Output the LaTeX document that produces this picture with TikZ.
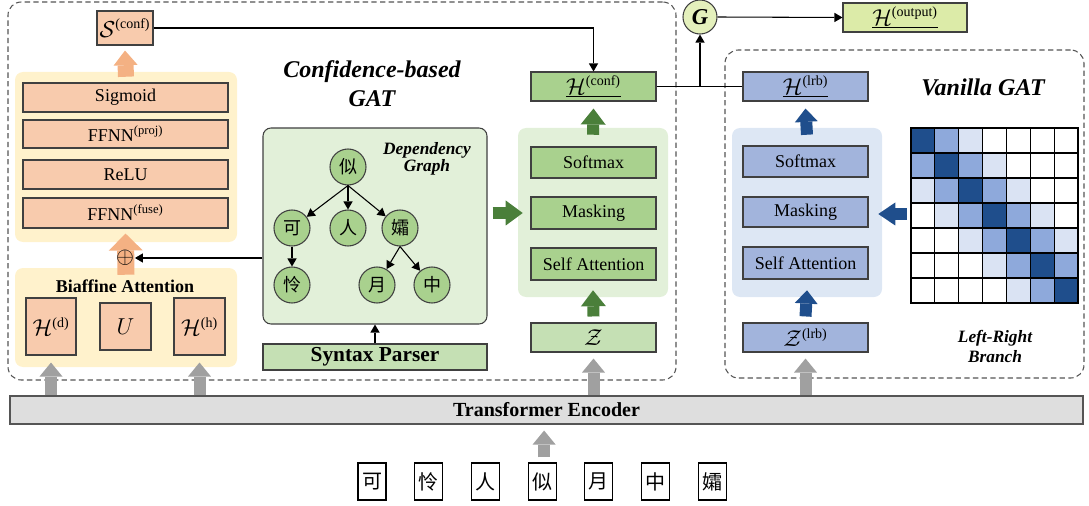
\documentclass[tikz,border=0pt]{standalone}
\usepackage{fontspec}
\setmainfont{Liberation Serif}
\newfontfamily\cjk{Noto Sans CJK SC}
\usetikzlibrary{arrows.meta,calc}
\newcommand\fsz[1]{\fontsize{#1}{#1}\selectfont}
\newcommand\sps[1]{^{\mbox{\fsz{10.5}(#1)}}}
\definecolor{orbox}{HTML}{F8CBAD}
\definecolor{orarr}{HTML}{F4B183}
\definecolor{ypanel}{HTML}{FFF2CC}
\definecolor{gbox}{HTML}{A9D18E}
\definecolor{gboxl}{HTML}{C5E0B4}
\definecolor{gpanel}{HTML}{E2F0D9}
\definecolor{garr}{HTML}{4A7F3A}
\definecolor{bbox}{HTML}{A2B4DC}
\definecolor{bpanelc}{HTML}{DDE7F4}
\definecolor{barr}{HTML}{1F4E8C}
\definecolor{gdark}{HTML}{1F4E8C}
\definecolor{gmid}{HTML}{8EA9DB}
\definecolor{glight}{HTML}{DAE3F3}
\definecolor{grarr}{HTML}{A0A0A0}
\definecolor{barc}{HTML}{DEDEDE}
\definecolor{houtc}{HTML}{DCEBA8}
\definecolor{gcirc}{HTML}{E4F0BC}
\definecolor{bcol}{HTML}{404040}
\definecolor{dcol}{HTML}{555555}
\begin{document}
\begin{tikzpicture}[x=0.75pt,y=-0.75pt,
  box/.style={draw=bcol, line width=0.8pt, inner sep=0pt, font=\fsz{13.5}},
  sz/.style 2 args={minimum width={#1*0.75pt}, minimum height={#2*0.75pt}},
  panel/.style={rounded corners=6pt, inner sep=0pt},
  dashbox/.style={draw=dcol, line width=0.8pt, dash pattern=on 4pt off 2.5pt, rounded corners=10pt, inner sep=0pt},
  conn/.style={draw=black, line width=0.8pt, -{Triangle[length=6pt,width=7pt,line width=0pt]}},
  plain/.style={draw=black, line width=0.8pt},
  bigarrow/.style n args={5}{draw=#1, line width=#2, -{Triangle[length=#3,width=#4,line width=0pt]}, shorten <=0pt},
  tn/.style={circle, draw=bcol, line width=0.8pt, fill=gbox, minimum size=27pt, inner sep=0pt, font=\cjk\fsz{13.5}},
  lbl/.style={font=\bfseries\itshape, align=center, inner sep=0pt}
]
\useasboundingbox (0,0) rectangle (1089,506);

% dashed outer boxes
\node[dashbox, sz={668}{378}] (cgat) at (342,191) {};
\node[dashbox, sz={359}{328}] (vgat) at (904.5,214) {};

% panels
\node[panel, fill=ypanel, sz={222}{170}] (up) at (126,157) {};
\node[panel, fill=ypanel, sz={222}{99}] (bp) at (126,317.5) {};
\node[panel, fill=gpanel, draw=bcol, line width=0.8pt, sz={224}{196}] (dep) at (375,226) {};
\node[panel, fill=gpanel, sz={150}{169}] (mp) at (593,212.5) {};
\node[panel, fill=bpanelc, sz={150}{169}] (rp) at (807,212.5) {};

% left column
\node[box, fill=orbox, sz={56}{34}] (S) at (125,28) {\fsz{16}$\mathcal{S}\sps{conf}$};
\node[box, fill=orbox, sz={205}{29}] (sig) at (125.5,97.5) {Sigmoid};
\node[box, fill=orbox, sz={205}{28}] (proj) at (125.5,134) {FFNN\textsuperscript{(proj)}};
\node[box, fill=orbox, sz={205}{29}] (relu) at (125.5,174.5) {ReLU};
\node[box, fill=orbox, sz={205}{30}] (fuse) at (125.5,213) {FFNN\textsuperscript{(fuse)}};
\node[font=\bfseries\fsz{13.5}] (biaf) at (125,286) {Biaffine Attention};
\node[box, fill=orbox, sz={50}{57}] (Hd) at (51,326.5) {\fsz{16}$\mathcal{H}\sps{d}$};
\node[box, fill=orbox, sz={51}{47}] (U) at (125.5,326.5) {\fsz{16}$U$};
\node[box, fill=orbox, sz={51}{57}] (Hh) at (199.5,326.5) {\fsz{16}$\mathcal{H}\sps{h}$};

% middle column
\node[box, fill=gbox, sz={125}{29}] (Hconf) at (593.5,86.5) {\fsz{16}\underline{$\mathcal{H}\sps{conf}$}};
\node[box, fill=gbox, sz={125}{31}] (soft1) at (593.5,162.5) {Softmax};
\node[box, fill=gbox, sz={125}{32}] (mask1) at (593.5,213) {Masking};
\node[box, fill=gbox, sz={125}{32}] (sa1) at (593.5,264) {Self Attention};
\node[box, fill=gboxl, sz={125}{29}] (Z) at (593.5,337.5) {\fsz{16}$\mathcal{Z}$};

% right column
\node[box, fill=bbox, sz={125}{29}] (Hlrb) at (805.5,86.5) {\fsz{16}\underline{$\mathcal{H}\sps{lrb}$}};
\node[box, fill=bbox, sz={125}{31}] (soft2) at (805.5,161.5) {Softmax};
\node[box, fill=bbox, sz={125}{30}] (mask2) at (805.5,212) {Masking};
\node[box, fill=bbox, sz={125}{32}] (sa2) at (805.5,263) {Self Attention};
\node[box, fill=bbox, sz={125}{29}] (Zlrb) at (805.5,337.5) {\fsz{16}$\mathcal{Z}\sps{lrb}$};

% gate and output
\node[circle, draw=bcol, line width=0.8pt, fill=gcirc, minimum size=25.5pt, inner sep=0pt, font=\bfseries\itshape\fsz{17}] (G) at (700,17) {G};
\node[box, fill=houtc, sz={124}{29}] (Hout) at (905,17.5) {\fsz{16}\underline{$\mathcal{H}\sps{output}$}};

% syntax parser and dependency tree
\node[box, fill=gboxl, sz={224}{26}, font=\bfseries\fsz{16}] (syn) at (375,357) {Syntax Parser};
\node[tn] (t1) at (348,167) {似};
\node[tn] (t2) at (292,228) {可};
\node[tn] (t3) at (348,228) {人};
\node[tn] (t4) at (400,228) {孀};
\node[tn] (t5) at (292,285) {怜};
\node[tn] (t6) at (377,285) {月};
\node[tn] (t7) at (432,285) {中};
\draw[conn] (t1.south) -- (t2);
\draw[conn] (t1.south) -- (t3);
\draw[conn] (t1.south) -- (t4);
\draw[conn] (t2) -- (t5);
\draw[conn] (t4.south) -- (t6);
\draw[conn] (t4.south) -- (t7);

% grid
\node[sz={167}{175}, inner sep=0pt] (grid) at (994.5,215.5) {};
\foreach \i in {0,...,6}{
  \foreach \j in {0,...,6}{
    \pgfmathtruncatemacro\dd{abs(\i-\j)}
    \ifcase\dd \def\cc{gdark}\or \def\cc{gmid}\or \def\cc{glight}\else \def\cc{white}\fi
    \draw[draw=black, line width=0.8pt, fill=\cc] ({911+\j*23.857},{128+\i*25}) rectangle ({911+(\j+1)*23.857},{128+(\i+1)*25});
  }
}

% encoder and input chars
\node[box, fill=barc, draw=dcol, sz={1073}{28}, font=\bfseries\fsz{15}] (tenc) at (546.5,410) {Transformer Encoder};
\foreach \ch [count=\k] in {可,怜,人,似,月,中,孀}
  \node[draw=black, line width=0.8pt, sz={28}{37}, inner sep=0pt, font=\cjk\fsz{15}] (c\k) at ({372+56.7*(\k-1)},481.5) {\ch};

% labels
\node[lbl, font=\bfseries\itshape\fontsize{18}{22}\selectfont] (cgatl) at (372,84) {Confidence-based\\GAT};
\node[lbl, font=\bfseries\itshape\fontsize{18}{22}\selectfont] (vgatl) at (983,87) {Vanilla GAT};
\node[lbl, font=\bfseries\itshape\fontsize{13}{11.5}\selectfont] (depl) at (427,159) {Dependency\\Graph};
\node[lbl, font=\bfseries\itshape\fontsize{13}{15}\selectfont] (lrbl) at (995,346) {Left-Right\\Branch};

% block arrows
\draw[bigarrow={orarr}{12pt}{11pt}{18pt}{}] ($(up.north)+(0,5)$) -- ($(S.south)+(0,5)$);
\draw[bigarrow={orarr}{12.75pt}{12.75pt}{25.5pt}{}] ($(bp.north)+(0,7)$) -- ($(fuse.south)+(0,5)$);
\node[inner sep=0.5pt, font=\fsz{18}] (oplus) at (125,258) {$\oplus$};
\draw[conn] (dep.west |- oplus) -- (oplus.east);

\draw[bigarrow={garr}{9pt}{12pt}{18.75pt}{}] ($(mp.north)+(0,7)$) -- ($(Hconf.south)+(0,7)$);
\draw[bigarrow={garr}{9pt}{12pt}{18.75pt}{}] ($(Z.north)+(0,-6)$) -- ($(mp.south)+(0,-7)$);
\draw[bigarrow={garr}{9pt}{12.75pt}{18.75pt}{}] ($(dep.east |- mask1)+(5,0)$) -- ($(mp.west |- mask1)+(5,0)$);

\draw[bigarrow={barr}{9pt}{10pt}{17.25pt}{}] ($(rp.north)+(0,7)$) -- ($(Hlrb.south)+(0,7)$);
\draw[bigarrow={barr}{9pt}{10pt}{17.25pt}{}] ($(Zlrb.north)+(0,-6)$) -- ($(rp.south)+(0,-7)$);
\draw[bigarrow={barr}{9pt}{12.75pt}{17.25pt}{}] ($(grid.west |- mask2)+(-4,2)$) -- ($(rp.east |- mask2)+(-4,2)$);

\draw[bigarrow={grarr}{9pt}{10.5pt}{17.25pt}{}] (tenc.north -| Hd) -- ($(Hd.south)+(0,7)$);
\draw[bigarrow={grarr}{9pt}{10.5pt}{17.25pt}{}] (tenc.north -| Hh) -- ($(Hh.south)+(0,7)$);
\draw[bigarrow={grarr}{9pt}{10.5pt}{17.25pt}{}] (tenc.north -| Z) -- ($(Z.south)+(0,6)$);
\draw[bigarrow={grarr}{9pt}{10.5pt}{17.25pt}{}] (tenc.north -| Zlrb) -- ($(Zlrb.south)+(0,6)$);
\draw[bigarrow={grarr}{9pt}{10.5pt}{17.25pt}{}] ($(c4.north)+(2,-5)$) -- ($(tenc.south -| c4)+(2,6)$);

% thin connectors
\draw[conn] (syn.north) -- (dep.south);
\draw[conn] (S.east) -| (Hconf.north);
\coordinate (jn) at (G |- Hconf);
\draw[plain] (Hconf.east) -- (Hlrb.west);
\draw[conn] (jn) -- (G.south);
\draw[conn] (G.east) -- (Hout.west);
\end{tikzpicture}
\end{document}
